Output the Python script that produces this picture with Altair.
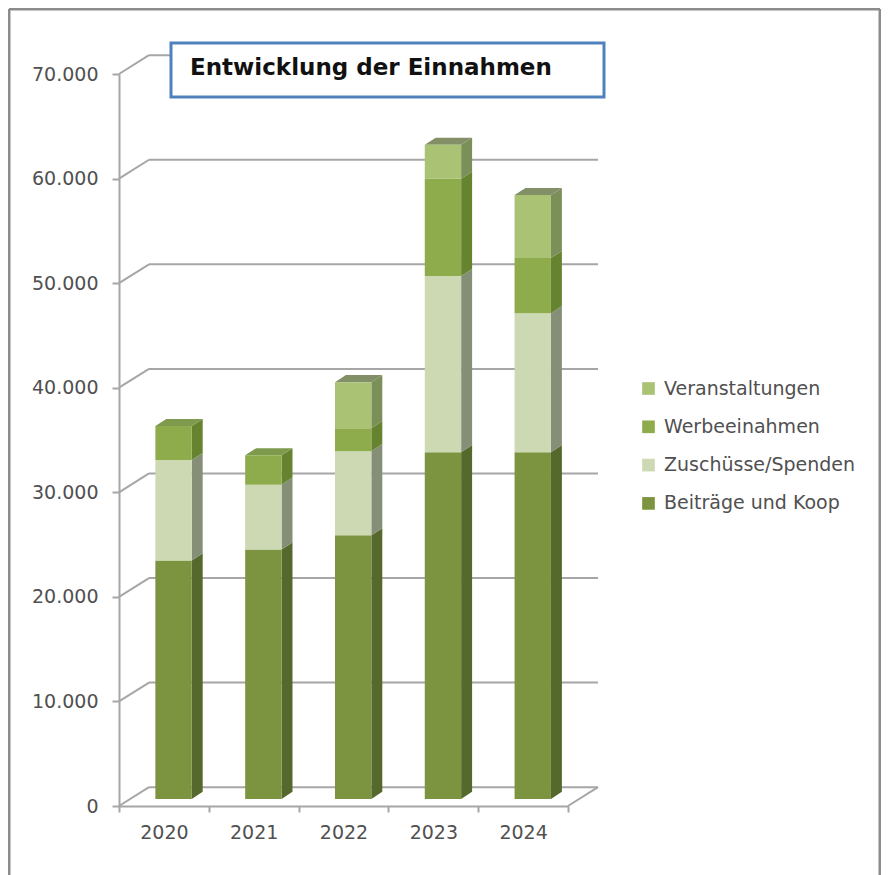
import altair as alt
import pandas as pd

years = [2020, 2021, 2022, 2023, 2024]
series = ["Veranstaltungen", "Werbeeinahmen", "Zuschüsse/Spenden", "Beiträge und Koop"]
beitraege = [22800, 23850, 25200, 33150, 33150]
zuschuesse = [9600, 6200, 8050, 16850, 13300]
werbung = [3250, 2800, 2200, 9300, 5270]
veranstaltungen = [0, 0, 4400, 3250, 6030]
y_ticks = [0, 10000, 20000, 30000, 40000, 50000, 60000, 70000]

front_colors = ["#a9c274", "#8fac4c", "#cdd9b3", "#7c943f"]
side_colors = ["#7b8f58", "#66842f", "#858f78", "#55692c"]
top_colors = ["#838f66", "#7e9a4c", "#9aa58a", "#66803a"]
GRAY = "#a6a6a6"
TEXT = "#505050"
FONT = "DejaVu Sans"

# depth of the 3D projection, in axis units
WALL_DX, WALL_DY = 0.334, 1800
BAR_DX, BAR_DY = 0.122, 680
BAR_BASE = 680
BAR_LEFT, BAR_W = 0.405, 0.405

values = {"Beiträge und Koop": beitraege, "Zuschüsse/Spenden": zuschuesse,
          "Werbeeinahmen": werbung, "Veranstaltungen": veranstaltungen}

front, side, top = [], [], []
for i, yr in enumerate(years):
    base = BAR_BASE
    last = None
    x0, x1 = i + BAR_LEFT, i + BAR_LEFT + BAR_W
    for s in ["Beiträge und Koop", "Zuschüsse/Spenden", "Werbeeinahmen", "Veranstaltungen"]:
        v = values[s][i]
        if v == 0:
            continue
        front.append(dict(series=s, x=x0, x2=x1, y=base, y2=base + v))
        key = f"{yr}-{s}"
        side.append(dict(key=key, series=s, x=x1, y=base, y2=base + v))
        side.append(dict(key=key, series=s, x=x1 + BAR_DX, y=base + BAR_DY, y2=base + v + BAR_DY))
        base += v
        last = s
    top.append(dict(key=yr, series=last, y=base, x=x0, x2=x1))
    top.append(dict(key=yr, series=last, y=base + BAR_DY, x=x0 + BAR_DX, x2=x1 + BAR_DX))

xs = alt.Scale(domain=[0, 5], nice=False, zero=False)
ys = alt.Scale(domain=[0, 70000], nice=False, zero=False)

def X(f, **k):
    k.setdefault("axis", None)
    return alt.X(f, type="quantitative", scale=xs, **k)

def Y(f, **k):
    k.setdefault("axis", None)
    return alt.Y(f, type="quantitative", scale=ys, **k)

def color(domain, rng, legend=None):
    return alt.Color("series:N", scale=alt.Scale(domain=domain, range=rng), legend=legend)

grid_df = pd.DataFrame({"v": y_ticks})
grid_df["x0"] = 0.0
grid_df["x1"] = WALL_DX
grid_df["x2"] = 5 + WALL_DX
grid_df["vb"] = grid_df["v"] + WALL_DY

axis_text = dict(grid=False, title=None, labelFont=FONT, labelFontSize=19, labelColor=TEXT)
axis_line = dict(tickColor=GRAY, tickWidth=2, domainColor=GRAY, domainWidth=2)

wall = alt.Chart(grid_df).mark_rule(color=GRAY, strokeWidth=2).encode(
    x=X("x1"), x2="x2:Q", y=Y("vb"),
)
slant = alt.Chart(grid_df).mark_rule(color=GRAY, strokeWidth=2).encode(
    x=X("x0"), x2="x1:Q", y=Y("v"), y2="vb:Q",
)
floor_side = alt.Chart(pd.DataFrame({"x": [5.0], "x2": [5 + WALL_DX], "y": [0], "y2": [WALL_DY]})).mark_rule(
    color=GRAY, strokeWidth=2).encode(x=X("x"), x2="x2:Q", y=Y("y"), y2="y2:Q")

# real axes
y_axis = alt.Chart(grid_df).mark_rule(opacity=0).encode(
    y=Y("v", axis=alt.Axis(values=y_ticks, tickSize=7, labelPadding=14,
                           labelExpr="replace(format(datum.value, ','), ',', '.')", **axis_text, **axis_line)),
)
x_ticks = alt.Chart(pd.DataFrame({"x": list(range(6))})).mark_rule(opacity=0).encode(
    x=X("x", axis=alt.Axis(orient="bottom", values=list(range(6)), tickSize=6, labels=False, **axis_text, **axis_line)),
)
x_labels = alt.Chart(pd.DataFrame({"x": [i + 0.5 for i in range(5)]})).mark_rule(opacity=0).encode(
    x=X("x", axis=alt.Axis(orient="bottom", values=[i + 0.5 for i in range(5)], ticks=False, domain=False,
                           labelPadding=17, labelExpr=f"{years[0]} - 0.5 + datum.value", **axis_text)),
)

side_l = alt.Chart(pd.DataFrame(side)).mark_area(orient="vertical", opacity=1).encode(
    x=X("x"), y=Y("y"), y2="y2:Q", detail="key:N", color=color(series, side_colors),
)
top_l = alt.Chart(pd.DataFrame(top)).mark_area(orient="horizontal", opacity=1).encode(
    y=Y("y"), x=X("x"), x2="x2:Q", detail="key:N", color=color(series, top_colors),
)
legend = alt.Legend(title=None, orient="none", legendX=520, legendY=305, symbolType="square", symbolSize=160,
                    symbolStrokeWidth=0, labelFont=FONT, labelFontSize=19, labelColor=TEXT, rowPadding=18.3,
                    labelOffset=6, labelLimit=300)
front_l = alt.Chart(pd.DataFrame(front)).mark_rect(opacity=1).encode(
    x=X("x"), x2="x2:Q", y=Y("y"), y2="y2:Q", color=color(series, front_colors, legend),
)

one = pd.DataFrame({"a": [0]})
FX0, FX1, FY0, FY1 = -110, 761, -65, 801
frame_l = alt.Chart(one).mark_rule(color="#8c8c8c", strokeWidth=3).encode(
    x=alt.value(FX0), y=alt.value(FY0), y2=alt.value(FY1))
frame_r = alt.Chart(one).mark_rule(color="#8c8c8c", strokeWidth=3).encode(
    x=alt.value(FX1), y=alt.value(FY0), y2=alt.value(FY1))
frame_t = alt.Chart(one).mark_rule(color="#8c8c8c", strokeWidth=3).encode(
    y=alt.value(FY0), x=alt.value(FX0), x2=alt.value(FX1))

box = alt.Chart(one).mark_rect(fill="white", stroke="#4f81bd", strokeWidth=3).encode(
    x=alt.value(52), x2=alt.value(485), y=alt.value(-31), y2=alt.value(23))
title = alt.Chart(pd.DataFrame({"t": ["Entwicklung der Einnahmen"]})).mark_text(
    align="left", baseline="middle", font=FONT, fontWeight="bold", fontSize=23, color="#111111").encode(
    x=alt.value(71), y=alt.value(-6), text="t:N")

chart = alt.layer(
    wall, slant, floor_side, y_axis, x_ticks, x_labels,
    side_l, top_l, front_l,
    frame_l, frame_r, frame_t, box, title,
).resolve_scale(color="independent").resolve_axis(x="independent", y="independent").properties(
    width=449, height=732,
    padding={"left": 111, "top": 66, "right": 313, "bottom": 69},
    autosize=alt.AutoSizeParams(type="none"),
    background="white",
).configure_view(stroke=None)

chart.save("out.html", embed_options={"renderer": "svg", "actions": False})
